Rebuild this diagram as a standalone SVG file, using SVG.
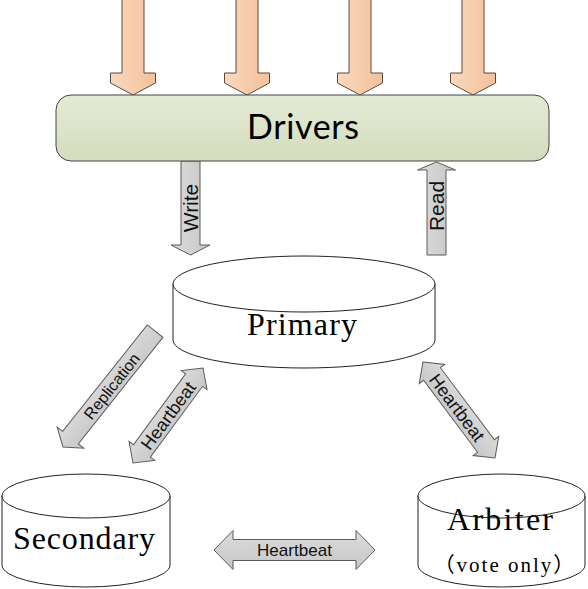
<svg xmlns="http://www.w3.org/2000/svg" width="588" height="589" viewBox="0 0 588 589">
<defs>
<linearGradient id="gPeach" x1="0" y1="0" x2="1" y2="0">
<stop offset="0" stop-color="#fad8bd"/><stop offset="1" stop-color="#f3c19c"/>
</linearGradient>
<linearGradient id="gGreen" x1="0" y1="0" x2="0" y2="1">
<stop offset="0" stop-color="#e4ebd6"/><stop offset="1" stop-color="#d3dcbd"/>
</linearGradient>
<linearGradient id="gGray" x1="0" y1="0" x2="0" y2="1">
<stop offset="0" stop-color="#dcdcdc"/><stop offset="1" stop-color="#c6c6c6"/>
</linearGradient>
<linearGradient id="gGrayV" x1="0" y1="0" x2="1" y2="0">
<stop offset="0" stop-color="#dcdcdc"/><stop offset="1" stop-color="#c6c6c6"/>
</linearGradient>
</defs>
<style>
.in{fill:url(#gPeach);stroke:#5e4a3a;stroke-width:1}
.ga{fill:url(#gGray);stroke:#5a5a5a;stroke-width:1}
.gv{fill:url(#gGrayV);stroke:#5a5a5a;stroke-width:1}
.cyl{fill:#fff;stroke:#222;stroke-width:1}
.big{font-family:"Liberation Serif",serif;font-size:32px;fill:#000;text-anchor:middle}
.lbl{font-family:"Liberation Sans",Arial,sans-serif;fill:#111;text-anchor:middle}
</style>
<g id="connectors">
<path class="in" d="M122,-1 L144,-1 L144,73 L155.5,73 L155.5,83 L133,95 L110.5,83 L110.5,73 L122,73 Z"/>
<path class="in" d="M236,-1 L258,-1 L258,73 L269.5,73 L269.5,83 L247,95 L224.5,83 L224.5,73 L236,73 Z"/>
<path class="in" d="M349,-1 L371,-1 L371,73 L382.5,73 L382.5,83 L360,95 L337.5,83 L337.5,73 L349,73 Z"/>
<path class="in" d="M462,-1 L484,-1 L484,73 L495.5,73 L495.5,83 L473,95 L450.5,83 L450.5,73 L462,73 Z"/>
<g id="write">
<path class="gv" d="M181,161 L200,161 L200,245 L210,245 L190.5,255 L171,245 L181,245 Z"/>
<text class="lbl" font-size="21" transform="translate(197.5,208) rotate(-90)">Write</text>
</g>
<g id="read">
<path class="gv" d="M427,255 L446,255 L446,170 L455.5,170 L436.5,162 L417.5,170 L427,170 Z"/>
<text class="lbl" font-size="21" transform="translate(443.5,206) rotate(-90)">Read</text>
</g>
<g id="replication" transform="translate(63,447) rotate(-51.5)">
<path class="ga" d="M0,0 L12,-17 L12,-10 L148,-10 L148,10 L12,10 L12,17 Z"/>
<text class="lbl" font-size="16" x="78" y="6">Replication</text>
</g>
<g id="hb-left" transform="translate(133,463) rotate(-53.6)">
<path class="ga" d="M0,0 L15,-16 L15,-10.5 L103,-10.5 L103,-16 L118,0 L103,16 L103,10.5 L15,10.5 L15,16 Z"/>
<text class="lbl" font-size="18" x="59" y="6.5">Heartbeat</text>
</g>
<g id="hb-right" transform="translate(423,362) rotate(53.13)">
<path class="ga" d="M0,0 L15,-16 L15,-10.5 L105,-10.5 L105,-16 L120,0 L105,16 L105,10.5 L15,10.5 L15,16 Z"/>
<text class="lbl" font-size="18" x="57" y="6.5">Heartbeat</text>
</g>
<g id="hb-bottom">
<path class="ga" d="M214,550 L233,530.5 L233,539.5 L356,539.5 L356,530.5 L375,550 L356,569.5 L356,560.5 L233,560.5 L233,569.5 Z"/>
<text class="lbl" font-size="17" x="294.5" y="556" textLength="75">Heartbeat</text>
</g>
</g>
<g id="node-drivers">
<rect x="56" y="95" width="493" height="66" rx="15" ry="15" fill="url(#gGreen)" stroke="#444" stroke-width="1"/>
<text x="303" y="139" font-family="Lato,'Open Sans',sans-serif" font-size="34" text-anchor="middle" fill="#000" textLength="112">Drivers</text>
</g>
<g id="node-primary">
<path class="cyl" d="M173,284 L173,340 A131,28 0 0 0 435,340 L435,284 Z"/>
<ellipse class="cyl" cx="304" cy="284" rx="131" ry="28"/>
<text class="big" x="302" y="335" textLength="110">Primary</text>
</g>
<g id="node-secondary">
<path class="cyl" d="M2,496 L2,565 A84,22 0 0 0 170,565 L170,496 Z"/>
<ellipse class="cyl" cx="86" cy="496" rx="84" ry="22"/>
<text class="big" x="84" y="549" textLength="142">Secondary</text>
</g>
<g id="node-arbiter">
<path class="cyl" d="M418,496 L418,565 A83.5,22 0 0 0 585,565 L585,496 Z"/>
<ellipse class="cyl" cx="501.5" cy="496" rx="83.5" ry="22"/>
<text class="big" x="500" y="530" textLength="106">Arbiter</text>
<text x="505" y="572" font-family="'Liberation Serif','Noto Sans CJK SC',serif" font-size="21" letter-spacing="2" text-anchor="middle" fill="#000">（vote only）</text>
</g>
</svg>
